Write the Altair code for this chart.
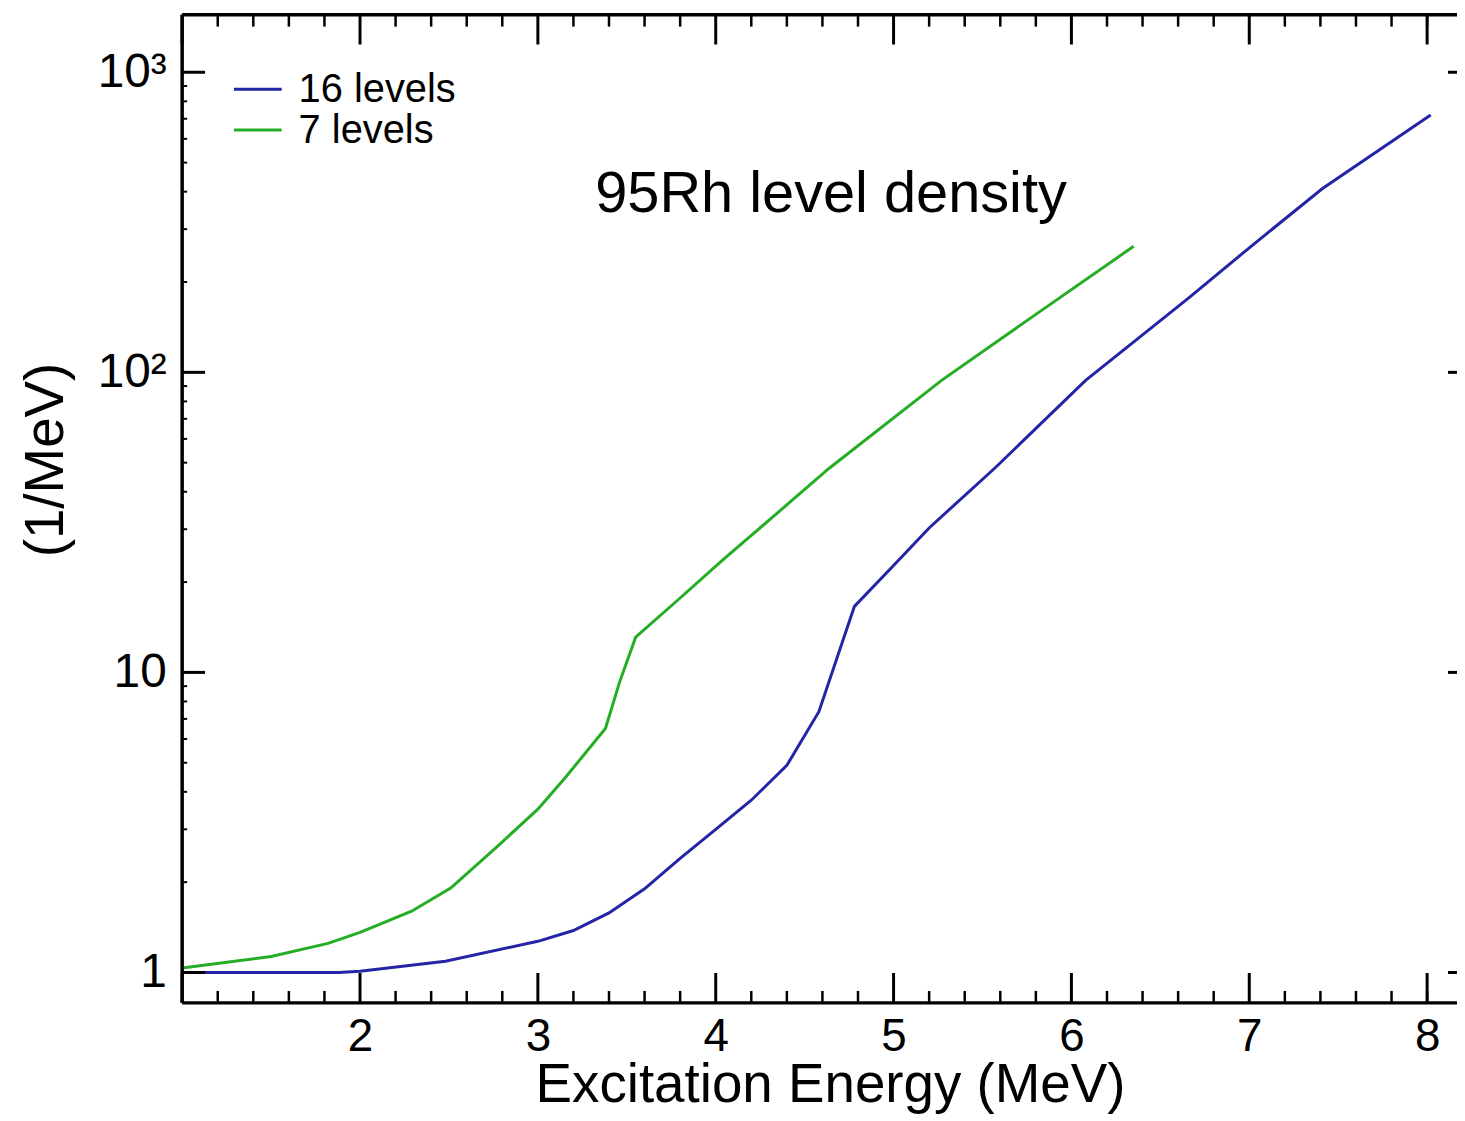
import altair as alt
import pandas as pd

# ---- data ----
blue_E = [1.0, 1.5, 1.88, 2.0, 2.48, 3.0, 3.2, 3.4, 3.6, 3.8, 4.0, 4.2, 4.4, 4.58, 4.78,
          5.0, 5.2, 5.57, 6.08, 6.66, 7.0, 7.41, 8.02]
blue_rho = [1.0, 1.0, 1.0, 1.01, 1.09, 1.27, 1.38, 1.58, 1.9, 2.4, 3.0, 3.75, 4.9, 7.4, 16.6,
            22.7, 30.3, 48.0, 94.0, 177.0, 260.0, 409.0, 720.0]
green_E = [1.0, 1.5, 1.82, 2.0, 2.29, 2.51, 2.79, 3.0, 3.15, 3.38, 3.46, 3.55, 3.8,
           4.04, 4.64, 5.27, 5.8, 6.35]
green_rho = [1.035, 1.13, 1.25, 1.36, 1.60, 1.91, 2.69, 3.5, 4.43, 6.5, 9.3, 13.1, 17.7,
             23.7, 48.0, 94.0, 156.0, 263.0]
series_names = ["16 levels", "7 levels"]
series_colors = ["#2424a6", "#26ad26"]
title_text = "95Rh level density"

x_major = [1, 2, 3, 4, 5, 6, 7, 8]
x_minor = [1.2, 1.4, 1.6, 1.8, 2.2, 2.4, 2.6, 2.8, 3.2, 3.4, 3.6, 3.8, 4.2, 4.4, 4.6, 4.8,
           5.2, 5.4, 5.6, 5.8, 6.2, 6.4, 6.6, 6.8, 7.2, 7.4, 7.6, 7.8, 8.0]
x_labels = [2, 3, 4, 5, 6, 7, 8]
y_major = [1, 10, 100, 1000]
y_minor = [2, 3, 4, 5, 6, 7, 8, 9, 20, 30, 40, 50, 60, 70, 80, 90,
           200, 300, 400, 500, 600, 700, 800, 900]

W, H = 1281, 993
FONT = "Liberation Sans"
x_dom = [1.0, 8.168]
y_dom = [0.792, 1556]

curves = pd.concat([
    pd.DataFrame({"E": blue_E, "rho": blue_rho, "series": series_names[0]}),
    pd.DataFrame({"E": green_E, "rho": green_rho, "series": series_names[1]}),
])

xs = alt.Scale(domain=x_dom, nice=False, zero=False)
ys = alt.Scale(type="log", domain=y_dom, nice=False)

lines = alt.Chart(curves).mark_line(strokeWidth=3, clip=True).encode(
    x=alt.X("E:Q", scale=xs, axis=alt.Axis(
        values=x_labels, format="d", ticks=False, tickSize=0, domain=False, grid=False,
        labelFontSize=46, labelPadding=12, labelColor="black", labelFont=FONT,
        title="Excitation Energy (MeV)", titleFontSize=55, titleFont=FONT,
        titleFontWeight="normal", titleColor="black",
        titleX=651, titleY=99, titleBaseline="alphabetic", titleAlign="center")),
    y=alt.Y("rho:Q", scale=ys, axis=alt.Axis(
        values=y_major, ticks=False, tickSize=0, domain=False, grid=False,
        labelExpr="datum.value == 1000 ? '10³' : datum.value == 100 ? '10²' : datum.value == 10 ? '10' : '1'",
        labelFontSize=48, labelPadding=16, labelColor="black", labelFont=FONT,
        title="(1/MeV)", titleFontSize=55, titleFont=FONT, titleFontWeight="normal",
        titleColor="black", titleX=-137, titleY=447, titleAlign="center",
        titleBaseline="middle", titleAngle=-90)),
    color=alt.Color("series:N", scale=alt.Scale(domain=series_names, range=series_colors),
                    legend=None),
)

xmaj = pd.DataFrame({"E": x_major})
xmin = pd.DataFrame({"E": x_minor})
ymaj = pd.DataFrame({"rho": y_major})
ymin = pd.DataFrame({"rho": y_minor})

def xtick(df, y0, y1, sw):
    return alt.Chart(df).mark_rule(color="black", strokeWidth=sw).encode(
        x=alt.X("E:Q", scale=xs), y=alt.value(y0), y2=alt.value(y1))

def ytick(df, x0, x1, sw):
    return alt.Chart(df).mark_rule(color="black", strokeWidth=sw).encode(
        y=alt.Y("rho:Q", scale=ys), x=alt.value(x0), x2=alt.value(x1))

one = pd.DataFrame({"k": [0]})
border_bottom = alt.Chart(one).mark_rule(color="black", strokeWidth=3.5).encode(
    x=alt.value(0), x2=alt.value(W), y=alt.value(H))
border_top = alt.Chart(one).mark_rule(color="black", strokeWidth=3.5).encode(
    x=alt.value(0), x2=alt.value(W), y=alt.value(0))
border_left = alt.Chart(one).mark_rule(color="black", strokeWidth=3.5).encode(
    x=alt.value(0), y=alt.value(0), y2=alt.value(H))

# manual legend (inside plot, top-left)
legend_layers = []
for i, (name, col) in enumerate(zip(series_names, series_colors)):
    ly = 75 + 41 * i
    ld = pd.DataFrame({"label": [name]})
    legend_layers.append(alt.Chart(ld).mark_rule(color=col, strokeWidth=3).encode(
        x=alt.value(52), x2=alt.value(100), y=alt.value(ly)))
    legend_layers.append(alt.Chart(ld).mark_text(
        fontSize=40, font=FONT, color="black", align="left", baseline="middle"
    ).encode(x=alt.value(117), y=alt.value(ly + 1), text="label:N"))

title = alt.Chart(pd.DataFrame({"t": [title_text]})).mark_text(
    fontSize=58, font=FONT, color="black", align="center", baseline="alphabetic"
).encode(x=alt.value(652), y=alt.value(198), text="t:N")

chart = alt.layer(
    lines,
    xtick(xmaj, H, H - 30, 3), xtick(xmin, H, H - 12, 2.5),
    xtick(xmaj, 0, 30, 3), xtick(xmin, 0, 12, 2.5),
    ytick(ymaj, 0, 23, 3), ytick(ymin, 0, 5, 2),
    ytick(ymaj, W - 9, W, 3),
    border_bottom, border_top, border_left,
    *legend_layers,
    title,
).properties(
    width=W, height=H,
    autosize=alt.AutoSizeParams(type="none"),
    padding={"left": 175, "top": 4, "right": 0, "bottom": 112},
).configure_view(stroke=None).configure(font=FONT, background="white")

chart.save("out.html", embed_options={"renderer": "svg", "actions": False})
